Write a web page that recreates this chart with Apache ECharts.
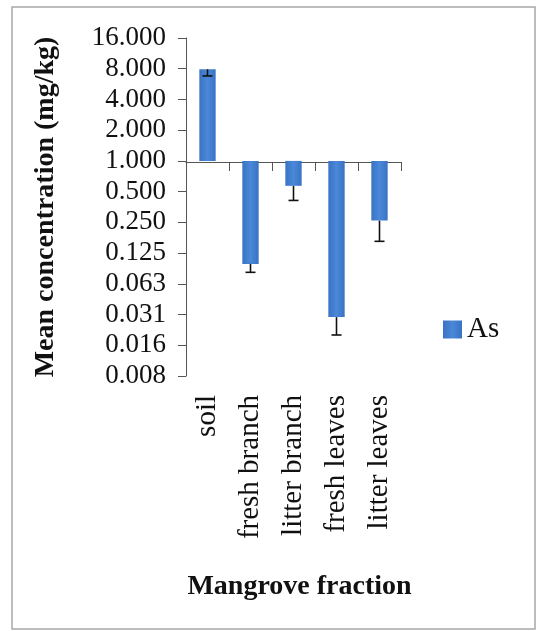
<!DOCTYPE html>
<html>
<head>
<meta charset="utf-8">
<script src="https://cdn.jsdelivr.net/npm/echarts@6/dist/echarts.min.js"></script>
<style>
  html, body { margin: 0; padding: 0; background: #ffffff; }
  #chart { width: 538px; height: 631px; }
</style>
</head>
<body>
<div id="chart"></div>
<script>
// Mangrove fractions and mean arsenic concentration (mg/kg) with standard error
const categories = ['soil', 'fresh branch', 'litter branch', 'fresh leaves', 'litter leaves'];
const asMean = [7.9, 0.098, 0.57, 0.0295, 0.26];
const asErr = [1.1, 0.017, 0.16, 0.0098, 0.097];
const seriesName = 'As';
const yTitle = 'Mean concentration (mg/kg)';
const xTitle = 'Mangrove fraction';
// log2 axis range: 2^-7 .. 2^4
const yMin = Math.pow(2, -7);
const yMax = 16;

const serif = 'Liberation Serif';
const barColor = new echarts.graphic.LinearGradient(0, 0, 1, 0, [
  { offset: 0, color: '#3a72c4' },
  { offset: 0.5, color: '#4a88d8' },
  { offset: 1, color: '#3a72c4' }
]);

const chart = echarts.init(document.getElementById('chart'), null, { renderer: 'canvas' });

chart.setOption({
  backgroundColor: '#ffffff',
  animation: false,
  graphic: [{
    type: 'rect',
    shape: { x: 12, y: 7, width: 523, height: 622 },
    style: { fill: 'none', stroke: '#a8a8a8', lineWidth: 1.5 },
    silent: true
  }],
  grid: { left: 186, right: 137, top: 38, bottom: 255, containLabel: false },
  legend: {
    data: [seriesName],
    left: 438, top: 310,
    orient: 'vertical',
    itemWidth: 19, itemHeight: 18, itemGap: 6,
    icon: 'rect',
    textStyle: { fontFamily: serif, fontSize: 29, color: '#111' }
  },
  xAxis: [{
    type: 'category',
    data: categories,
    position: 'bottom',
    axisLine: { show: false },
    axisTick: { show: false },
    axisLabel: {
      rotate: 90, margin: 19, interval: 0,
      fontFamily: serif, fontSize: 29, color: '#111'
    },
    name: xTitle,
    nameLocation: 'middle',
    nameGap: 197,
    nameTextStyle: { fontFamily: serif, fontSize: 28, fontWeight: 'bold', color: '#111', padding: [0, 0, 0, 12] }
  }, {
    // axis line drawn across the value 1.000
    type: 'category',
    data: categories,
    position: 'top',
    offset: -124,
    axisLine: { show: true, lineStyle: { color: '#555', width: 1 } },
    axisTick: { show: true, inside: true, interval: 0, length: 9, lineStyle: { color: '#555' } },
    axisLabel: { show: false }
  }],
  yAxis: {
    type: 'log',
    logBase: 2,
    min: yMin,
    max: yMax,
    interval: 1,
    axisLine: { show: true, lineStyle: { color: '#555', width: 1 } },
    axisTick: { show: true, length: 8, lineStyle: { color: '#555' } },
    splitLine: { show: false },
    axisLabel: {
      margin: 20, showMinLabel: true, showMaxLabel: true,
      fontFamily: serif, fontSize: 27, color: '#111',
      formatter: v => v.toFixed(3)
    },
    name: yTitle,
    nameLocation: 'middle',
    nameGap: 126,
    nameTextStyle: { fontFamily: serif, fontSize: 28, fontWeight: 'bold', color: '#111' }
  },
  series: [{
    name: seriesName,
    type: 'bar',
    xAxisIndex: 0,
    data: asMean,
    barWidth: '38%',
    itemStyle: { color: barColor }
  }, {
    // minus-direction error bars with a cap at the lower end
    type: 'custom',
    xAxisIndex: 0,
    data: asMean.map((m, i) => [i, m, m - asErr[i]]),
    encode: { x: 0, y: [1, 2] },
    z: 5,
    silent: true,
    renderItem: (params, api) => {
      const i = api.value(0);
      const top = api.coord([i, api.value(1)]);
      const low = api.coord([i, api.value(2)]);
      const half = 5;
      const style = { stroke: '#111', lineWidth: 1.6 };
      return {
        type: 'group',
        children: [
          { type: 'line', shape: { x1: top[0], y1: top[1], x2: low[0], y2: low[1] }, style },
          { type: 'line', shape: { x1: low[0] - half, y1: low[1], x2: low[0] + half, y2: low[1] }, style }
        ]
      };
    }
  }]
});
</script>
</body>
</html>
